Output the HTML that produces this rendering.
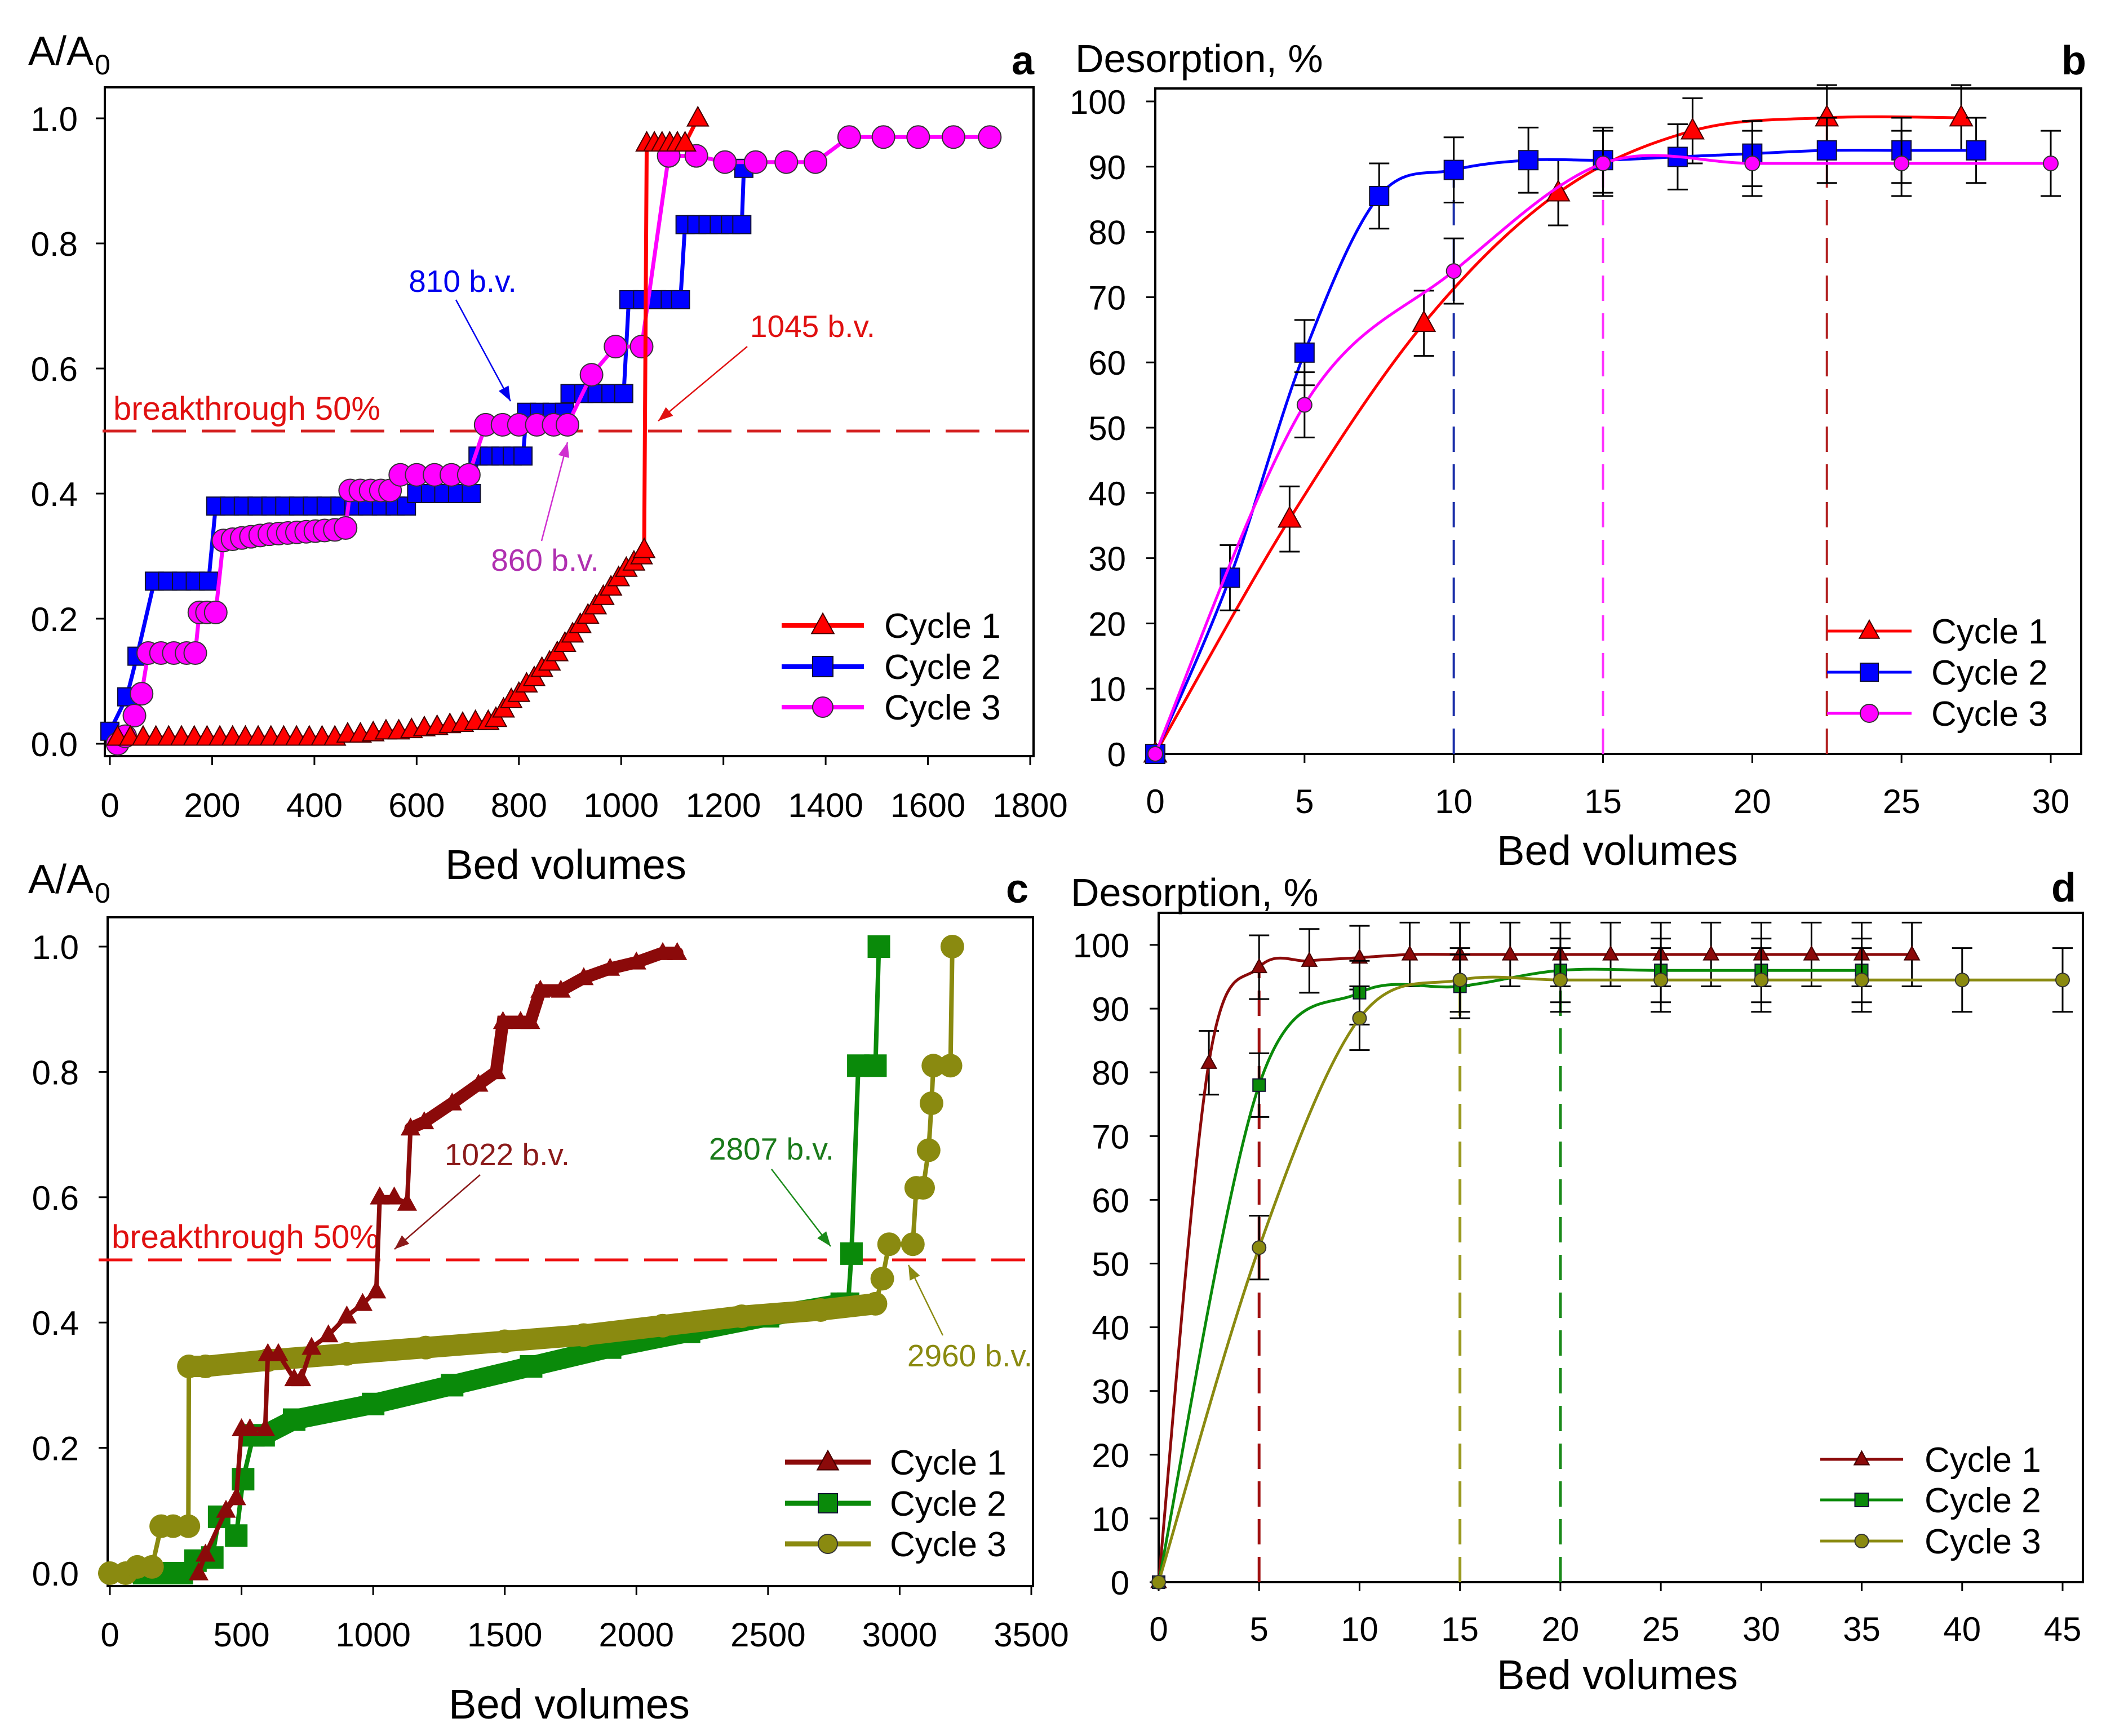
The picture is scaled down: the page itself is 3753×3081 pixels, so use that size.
<!DOCTYPE html>
<html><head><meta charset="utf-8"><style>
html,body{margin:0;padding:0;background:#fff;}
svg{display:block;font-family:"Liberation Sans",Arial,sans-serif;}
</style></head><body>
<svg id="fig" width="3753" height="3081" viewBox="0 0 3753 3081" xmlns="http://www.w3.org/2000/svg">
<rect width="3753" height="3081" fill="#fff"/>
</svg>
<script>
// ---------- Panel a data ----------
const aC1x=[15,40,65,90,115,140,165,190,215,240,265,290,315,340,365,390,415,440,465,490,515,540,565,590,615,640,665,690,715,740,755,770,785,800,815,830,845,860,875,890,905,920,935,950,965,980,995,1010,1025,1040,1045,1050,1065,1080,1095,1110,1125,1150];
const aC1y=[0.01,0.01,0.01,0.01,0.01,0.01,0.01,0.01,0.01,0.01,0.01,0.01,0.01,0.01,0.01,0.01,0.01,0.01,0.015,0.015,0.017,0.02,0.02,0.022,0.025,0.027,0.03,0.032,0.035,0.035,0.04,0.055,0.07,0.08,0.095,0.105,0.12,0.13,0.145,0.16,0.175,0.19,0.205,0.22,0.235,0.25,0.265,0.28,0.29,0.30,0.31,0.96,0.96,0.96,0.96,0.96,0.96,1.0];
const aC2x=[0,33,53,87,113,140,167,193,207,234,261,288,315,342,369,396,423,450,477,504,531,558,580,600,627,653,680,707,720,742,765,787,808,815,840,865,889,900,927,953,980,1005,1015,1042,1069,1096,1116,1125,1148,1170,1192,1214,1236,1240];
const aC2y=[0.02,0.075,0.14,0.26,0.26,0.26,0.26,0.26,0.38,0.38,0.38,0.38,0.38,0.38,0.38,0.38,0.38,0.38,0.38,0.38,0.38,0.38,0.38,0.40,0.40,0.40,0.40,0.40,0.46,0.46,0.46,0.46,0.46,0.53,0.53,0.53,0.53,0.56,0.56,0.56,0.56,0.56,0.71,0.71,0.71,0.71,0.71,0.83,0.83,0.83,0.83,0.83,0.83,0.92];
const aC3x=[15,30,48,62,75,100,125,150,167,175,190,207,222,240,258,276,294,312,330,348,366,384,402,420,440,461,470,490,510,530,548,568,600,635,668,702,735,768,800,835,868,895,942,989,1040,1093,1147,1203,1263,1323,1380,1446,1513,1581,1650,1721];
const aC3y=[0,0.012,0.045,0.08,0.145,0.145,0.145,0.145,0.145,0.21,0.21,0.21,0.325,0.327,0.329,0.331,0.333,0.335,0.336,0.337,0.338,0.339,0.34,0.341,0.342,0.345,0.405,0.405,0.405,0.405,0.405,0.43,0.43,0.43,0.43,0.43,0.51,0.51,0.51,0.51,0.51,0.51,0.59,0.635,0.635,0.94,0.94,0.93,0.93,0.93,0.93,0.97,0.97,0.97,0.97,0.97];
const aXTicks=[0,200,400,600,800,1000,1200,1400,1600,1800];
const aYTicks=[0,0.2,0.4,0.6,0.8,1.0];
// ---------- Panel b data ----------
const bC1x=[0,4.5,9,13.5,18,22.5,27];
const bC1y=[0,36,66,86,95.5,97.5,97.5];
const bC2x=[0,2.5,5,7.5,10,12.5,15,17.5,20,22.5,25,27.5];
const bC2y=[0,27,61.5,85.5,89.5,91,91,91.5,92,92.5,92.5,92.5];
const bC3x=[0,5,10,15,20,25,30];
const bC3y=[0,53.5,74,90.5,90.5,90.5,90.5];
const bErr=5;
const bXTicks=[0,5,10,15,20,25,30];
const bYTicks=[0,10,20,30,40,50,60,70,80,90,100];
const bDrop=[10,15,22.5];
// ---------- Panel c data ----------
const cC1x=[337,363,441,480,500,532,590,600,640,700,727,766,830,900,960,1012,1025,1080,1129,1142,1194,1300,1400,1467,1493,1560,1597,1635,1713,1800,1900,2000,2100,2155];
const cC1y=[0,0.03,0.1,0.12,0.23,0.23,0.23,0.35,0.35,0.31,0.31,0.36,0.38,0.41,0.43,0.45,0.6,0.6,0.59,0.71,0.72,0.75,0.78,0.80,0.88,0.88,0.88,0.93,0.93,0.95,0.965,0.975,0.99,0.99];
const cC2x=[130,180,230,273,325,389,415,480,506,545,584,700,1000,1300,1600,1900,2200,2500,2780,2804,2817,2843,2908,2921];
const cC2y=[0,0,0,0,0.02,0.025,0.09,0.06,0.15,0.22,0.22,0.245,0.27,0.30,0.33,0.36,0.385,0.41,0.43,0.43,0.51,0.81,0.81,1.0];
const cC3x=[0,60,104,160,195,240,298,300,363,600,900,1200,1500,1800,2100,2400,2700,2908,2934,2960,3050,3063,3089,3110,3121,3128,3193,3200];
const cC3y=[0,0,0.01,0.01,0.075,0.075,0.075,0.33,0.33,0.34,0.35,0.36,0.37,0.38,0.395,0.41,0.42,0.43,0.47,0.525,0.525,0.615,0.615,0.675,0.75,0.81,0.81,1.0];
const cXTicks=[0,500,1000,1500,2000,2500,3000,3500];
const cYTicks=[0,0.2,0.4,0.6,0.8,1.0];
// ---------- Panel d data ----------
const dC1x=[0,2.5,5,7.5,10,12.5,15,17.5,20,22.5,25,27.5,30,32.5,35,37.5];
const dC1y=[0,81.5,96.5,97.5,98,98.5,98.5,98.5,98.5,98.5,98.5,98.5,98.5,98.5,98.5,98.5];
const dC2x=[0,5,10,15,20,25,30,35];
const dC2y=[0,78,92.5,93.5,96,96,96,96];
const dC3x=[0,5,10,15,20,25,30,35,40,45];
const dC3y=[0,52.5,88.5,94.5,94.5,94.5,94.5,94.5,94.5,94.5];
const dErr=5;
const dXTicks=[0,5,10,15,20,25,30,35,40,45];
const dYTicks=[0,10,20,30,40,50,60,70,80,90,100];
const dDrop=[5,15,20];

const NS="http://www.w3.org/2000/svg";
const svg=document.getElementById('fig');
function mk(tag,attrs,parent){const e=document.createElementNS(NS,tag);for(const k in attrs)e.setAttribute(k,attrs[k]);(parent||svg).appendChild(e);return e;}
function txt(s,x,y,size,anchor,fill,parent,weight){const t=mk('text',{x:x,y:y,'font-size':size,'text-anchor':anchor||'start',fill:fill||'#000'},parent);if(weight)t.setAttribute('font-weight',weight);t.textContent=s;return t;}
function marker(type,x,y,s,fill,parent){
  let e;
  if(type==='tri'){e=mk('path',{d:`M${x},${y-s*0.6}L${x+s*0.55},${y+s*0.4}L${x-s*0.55},${y+s*0.4}Z`,fill:fill,stroke:'#400',"stroke-width":2},parent);}
  else if(type==='sq'){e=mk('rect',{x:x-s/2,y:y-s/2,width:s,height:s,fill:fill,stroke:'#113',"stroke-width":2},parent);}
  else {e=mk('circle',{cx:x,cy:y,r:s/2,fill:fill,stroke:'#333',"stroke-width":2},parent);}
  return e;
}
function smoothPath(pts){
  let d=`M${pts[0][0]},${pts[0][1]}`;
  for(let i=0;i<pts.length-1;i++){
    const p0=pts[Math.max(0,i-1)],p1=pts[i],p2=pts[i+1],p3=pts[Math.min(pts.length-1,i+2)];
    const c1x=p1[0]+(p2[0]-p0[0])/6,c1y=p1[1]+(p2[1]-p0[1])/6;
    const c2x=p2[0]-(p3[0]-p1[0])/6,c2y=p2[1]-(p3[1]-p1[1])/6;
    d+=`C${c1x},${c1y} ${c2x},${c2y} ${p2[0]},${p2[1]}`;
  }
  return d;
}
function axes(P,g,xt,yt,xfmt,yfmt){
  mk('rect',{x:P.L,y:P.T,width:P.R-P.L,height:P.B-P.T,fill:'none',stroke:'#000','stroke-width':4},g);
  xt.forEach(v=>{const x=P.sx(v);mk('line',{x1:x,y1:P.B,x2:x,y2:P.B+16,stroke:'#000','stroke-width':3},g);
    const t=txt(xfmt(v),x,P.xly,60,'middle','#000',g);});
  yt.forEach(v=>{const y=P.sy(v);mk('line',{x1:P.L-16,y1:y,x2:P.L,y2:y,stroke:'#000','stroke-width':3},g);
    const t=txt(yfmt(v),P.yle,y+22,60,'end','#000',g);});
}
function panelGroup(name){const g=mk('g',{});return g;}
function legend(g,items,x1,x2,xt,ys,lw,ms){
  items.forEach((it,i)=>{const lg=mk('g',{},g);
    mk('line',{x1:x1,y1:ys[i],x2:x2,y2:ys[i],stroke:it.c,'stroke-width':lw},lg);
    marker(it.m,(x1+x2)/2,ys[i],ms,it.f||it.c,lg);
    txt(it.n,xt,ys[i]+22,62,'start','#000',lg);});
}
function arrow(g,x1,y1,x2,y2,col,name){
  const a=mk('g',{},g);
  mk('line',{x1:x1,y1:y1,x2:x2,y2:y2,stroke:col,'stroke-width':2.5},a);
  const ang=Math.atan2(y2-y1,x2-x1),L=26,W=10;
  const bx=x2-L*Math.cos(ang),by=y2-L*Math.sin(ang);
  mk('path',{d:`M${x2},${y2}L${bx-W*Math.sin(ang)},${by+W*Math.cos(ang)}L${bx+W*Math.sin(ang)},${by-W*Math.cos(ang)}Z`,fill:col},a);
}
const f1=v=>v.toFixed(1), f0=v=>String(v);

// ===== Panel a =====
(function(){
  const g=panelGroup('panel-a');
  const P={L:186,R:1834,T:155,B:1342,xly:1450,yle:138,sx:v=>195+v*(1828-195)/1800,sy:v=>1320-v*1110};
  axes(P,g,aXTicks,aYTicks,f0,f1);
  let t=txt('A/A',50,115,72,'start','#000',g);
  t=txt('0',168,132,50,'start','#000',g);
  t=txt('a',1795,132,72,'start','#000',g,'bold');
  t=txt('Bed volumes',1004,1560,74,'middle','#000',g);
  const bl=mk('line',{x1:182,y1:P.sy(0.5),x2:1840,y2:P.sy(0.5),stroke:'#d42020','stroke-width':5,'stroke-dasharray':'60,28'},g);
  
  t=txt('breakthrough 50%',201,745,58,'start','#e01010',g);
  const series=[{x:aC2x,y:aC2y,c:'#0000ff',m:'sq',s:32,n:'cycle-2'},{x:aC3x,y:aC3y,c:'#ff00ff',m:'ci',s:40,n:'cycle-3'},{x:aC1x,y:aC1y,c:'#ff0000',m:'tri',s:34,n:'cycle-1'}];
  series.forEach(S=>{const sg=mk('g',{},g);
    const pts=S.x.map((v,i)=>[P.sx(v),P.sy(S.y[i])]);
    mk('polyline',{points:pts.map(p=>p.join(',')).join(' '),fill:'none',stroke:S.c,'stroke-width':7},sg);
    pts.forEach(p=>{const m=marker(S.m,p[0],p[1],S.s,S.c,sg);});});
  t=txt('810 b.v.',821,518,55,'middle','#0000ee',g);
  arrow(g,809,532,906,712,'#0000ee','arrow-810');
  t=txt('1045 b.v.',1442,598,55,'middle','#e01010',g);
  arrow(g,1326,615,1168,747,'#e01010','arrow-1045');
  t=txt('860 b.v.',967,1013,55,'middle','#b030b0',g);
  arrow(g,961,960,1007,785,'#d030d0','arrow-860');
  legend(g,[{n:'Cycle 1',c:'#ff0000',m:'tri'},{n:'Cycle 2',c:'#0000ff',m:'sq'},{n:'Cycle 3',c:'#ff00ff',m:'ci'}],1387,1533,1569,[1110,1183,1255],8,36);
})();

// ===== Panel b =====
(function(){
  const g=panelGroup('panel-b');
  const P={L:2050,R:3693,T:157,B:1338,xly:1443,yle:1998,sx:v=>2050+v*(3639-2050)/30,sy:v=>1338-v*(1338-180)/100};
  axes(P,g,bXTicks,bYTicks,f0,f0);
  let t=txt('Desorption, %',1908,128,70,'start','#000',g);
  t=txt('b',3658,132,72,'start','#000',g,'bold');
  t=txt('Bed volumes',2870,1535,74,'middle','#000',g);
  const series=[{x:bC1x,y:bC1y,c:'#ff0000',m:'tri',s:36,n:'cycle-1'},{x:bC2x,y:bC2y,c:'#0000ff',m:'sq',s:34,n:'cycle-2'},{x:bC3x,y:bC3y,c:'#ff00ff',m:'ci',s:26,n:'cycle-3'}];
  const dropCols=['#1a2ea8','#ff33ff','#b22222'];
  const dropSeries=[1,2,0];
  bDrop.forEach((v,i)=>{const S=series[dropSeries[i]];const idx=S.x.indexOf(v);const top=idx>=0?P.sy(S.y[idx]):P.sy(90);
    const l=mk('line',{x1:P.sx(v),y1:P.B,x2:P.sx(v),y2:top,stroke:dropCols[i],'stroke-width':4,'stroke-dasharray':'45,22'},g);
    });
  series.forEach(S=>{const sg=mk('g',{},g);
    const pts=S.x.map((v,i)=>[P.sx(v),P.sy(S.y[i])]);
    pts.forEach((p,i)=>{if(i===0)return;const y1=P.sy(S.y[i]+bErr),y2=P.sy(S.y[i]-bErr);
      mk('path',{d:`M${p[0]},${y1}V${y2}M${p[0]-18},${y1}H${p[0]+18}M${p[0]-18},${y2}H${p[0]+18}`,stroke:'#000','stroke-width':3,fill:'none'},sg);});
    mk('path',{d:smoothPath(pts),fill:'none',stroke:S.c,'stroke-width':5},sg);
    pts.forEach(p=>{const m=marker(S.m,p[0],p[1],S.s,S.c,sg);});});
  legend(g,[{n:'Cycle 1',c:'#ff0000',m:'tri'},{n:'Cycle 2',c:'#0000ff',m:'sq'},{n:'Cycle 3',c:'#ff00ff',m:'ci'}],3242,3392,3427,[1120,1193,1266],5,32);
})();

// ===== Panel c =====
(function(){
  const g=panelGroup('panel-c');
  const P={L:191,R:1833,T:1628,B:2815,xly:2922,yle:140,sx:v=>195+v*(1830-195)/3500,sy:v=>2792-v*1112};
  axes(P,g,cXTicks,cYTicks,f0,f1);
  let t=txt('A/A',50,1585,72,'start','#000',g);
  t=txt('0',168,1602,50,'start','#000',g);
  t=txt('c',1785,1602,72,'start','#000',g,'bold');
  t=txt('Bed volumes',1010,3050,74,'middle','#000',g);
  const bl=mk('line',{x1:175,y1:P.sy(0.5),x2:1840,y2:P.sy(0.5),stroke:'#ee1111','stroke-width':5,'stroke-dasharray':'60,28'},g);
  
  t=txt('breakthrough 50%',198,2215,58,'start','#e01010',g);
  const series=[{x:cC2x,y:cC2y,c:'#0a8a0a',m:'sq',s:40,n:'cycle-2',band:[584,2804],bw:36},
                {x:cC3x,y:cC3y,c:'#8a8a10',m:'ci',s:42,n:'cycle-3',band:[300,2908],bw:38},
                {x:cC1x,y:cC1y,c:'#8b0a0a',m:'tri',s:32,n:'cycle-1',band:[1142,2155],bw:22}];
  series.forEach(S=>{const sg=mk('g',{},g);
    const pts=S.x.map((v,i)=>[P.sx(v),P.sy(S.y[i])]);
    mk('polyline',{points:pts.map(p=>p.join(',')).join(' '),fill:'none',stroke:S.c,'stroke-width':8},sg);
    const bp=S.x.map((v,i)=>[v,S.y[i]]).filter(p=>p[0]>=S.band[0]&&p[0]<=S.band[1]).map(p=>[P.sx(p[0]),P.sy(p[1])]);
    mk('polyline',{points:bp.map(p=>p.join(',')).join(' '),fill:'none',stroke:S.c,'stroke-width':S.bw,'stroke-linecap':'round'},sg);
    pts.forEach(p=>{const m=marker(S.m,p[0],p[1],S.s,S.c,sg);m.setAttribute('stroke','none');});});
  t=txt('1022 b.v.',900,2068,55,'middle','#8b1a1a',g);
  arrow(g,852,2085,700,2217,'#8b1a1a','arrow-1022');
  t=txt('2807 b.v.',1369,2058,55,'middle','#1a7a1a',g);
  arrow(g,1369,2075,1474,2212,'#1a8a1a','arrow-2807');
  t=txt('2960 b.v.',1721,2425,55,'middle','#8a8a10',g);
  arrow(g,1673,2370,1612,2245,'#8a8a10','arrow-2960');
  legend(g,[{n:'Cycle 1',c:'#8b0a0a',m:'tri'},{n:'Cycle 2',c:'#0a8a0a',m:'sq'},{n:'Cycle 3',c:'#8a8a10',m:'ci'}],1393,1545,1579,[2595,2668,2740],9,34);
})();

// ===== Panel d =====
(function(){
  const g=panelGroup('panel-d');
  const P={L:2056,R:3696,T:1620,B:2808,xly:2912,yle:2004,sx:v=>2056+v*(3660-2056)/45,sy:v=>2808-v*(2808-1677)/100};
  axes(P,g,dXTicks,dYTicks,f0,f0);
  let t=txt('Desorption, %',1900,1608,70,'start','#000',g);
  t=txt('d',3640,1600,72,'start','#000',g,'bold');
  t=txt('Bed volumes',2870,2998,74,'middle','#000',g);
  const series=[{x:dC1x,y:dC1y,c:'#8b0a0a',m:'tri',s:24,n:'cycle-1'},{x:dC2x,y:dC2y,c:'#0a8a0a',m:'sq',s:22,n:'cycle-2'},{x:dC3x,y:dC3y,c:'#8a8a10',m:'ci',s:24,n:'cycle-3'}];
  const dropCols=['#a01010','#9a9a20','#1a8a1a'];
  const dropSeries=[0,2,1];
  dDrop.forEach((v,i)=>{const S=series[dropSeries[i]];const idx=S.x.indexOf(v);const top=idx>=0?P.sy(S.y[idx]):P.sy(90);
    const l=mk('line',{x1:P.sx(v),y1:P.B,x2:P.sx(v),y2:top,stroke:dropCols[i],'stroke-width':5,'stroke-dasharray':'45,22'},g);
    });
  series.forEach(S=>{const sg=mk('g',{},g);
    const pts=S.x.map((v,i)=>[P.sx(v),P.sy(S.y[i])]);
    pts.forEach((p,i)=>{if(i===0)return;const y1=P.sy(S.y[i]+dErr),y2=P.sy(S.y[i]-dErr);
      mk('path',{d:`M${p[0]},${y1}V${y2}M${p[0]-18},${y1}H${p[0]+18}M${p[0]-18},${y2}H${p[0]+18}`,stroke:'#000','stroke-width':3,fill:'none'},sg);});
    mk('path',{d:smoothPath(pts),fill:'none',stroke:S.c,'stroke-width':5},sg);
    pts.forEach(p=>{const m=marker(S.m,p[0],p[1],S.s,S.c,sg);});});
  legend(g,[{n:'Cycle 1',c:'#8b0a0a',m:'tri'},{n:'Cycle 2',c:'#0a8a0a',m:'sq'},{n:'Cycle 3',c:'#8a8a10',m:'ci'}],3230,3377,3415,[2590,2662,2735],5,24);
})();
</script>
</body></html>
